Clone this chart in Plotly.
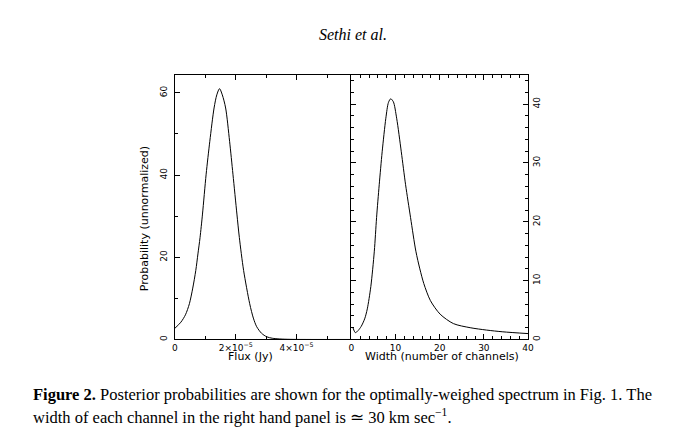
import plotly.graph_objects as go

# left panel: flux in units of 1e-5 Jy
flux_1e5 = [0, 0.2, 0.35, 0.48, 0.59, 0.69, 0.76, 0.83, 0.91, 1.03, 1.15, 1.29, 1.38,
            1.47, 1.56, 1.67, 1.80, 1.91, 2.04, 2.12, 2.26, 2.46, 2.58, 2.69, 2.85,
            3.02, 3.2, 3.45, 3.8, 4.5, 5.8]
prob_flux = [2.7, 4.2, 6.0, 8.7, 12.5, 16.8, 20.8, 24.8, 30.5, 40.2, 48.2, 56.3, 59.5,
             61.0, 59.5, 56.3, 48.2, 40.2, 30.5, 24.8, 16.8, 8.7, 5.2, 3.1, 1.5,
             0.65, 0.3, 0.12, 0.03, 0, 0]

# right panel: width in channels
width_ch = [0.3, 0.9, 1.5, 2.2, 3.0, 3.6, 4.4, 5.19, 5.7, 6.3, 6.97, 7.8, 8.4, 8.9,
            9.5, 10.25, 11.3, 12.27, 13.4, 14.6, 15.5, 16.4, 17.9, 20.1, 23.1,
            26.9, 30.6, 34.3, 40]
prob_width = [2.1, 1.15, 1.5, 2.2, 3.5, 5.2, 9.0, 15.0, 20.7, 26.3, 31.9, 37.6, 40.3, 40.9,
              40.4, 37.6, 31.9, 26.3, 20.7, 15.0, 12.0, 9.5, 6.6, 4.3, 2.7,
              2.0, 1.6, 1.3, 1.0]

# page has an 8px body margin, so the figure is a bit smaller and shifted
W, H = 675, 436
OFF = 8


def px(x):
    return (x - OFF) / W


def py(y):
    return 1 - (y - OFF) / H


ydom = [py(341), py(75)]
tickfont = dict(family="DejaVu Sans", size=9, color="black")
line = dict(color="black", width=1, shape="spline", smoothing=0.8)

fig = go.Figure()
fig.add_trace(go.Scatter(x=[f * 1e-5 for f in flux_1e5], y=prob_flux, mode="lines",
                         line=line, xaxis="x", yaxis="y"))
fig.add_trace(go.Scatter(x=width_ch, y=prob_width, mode="lines",
                         line=line, xaxis="x2", yaxis="y2"))

axis_common = dict(showgrid=False, zeroline=False, showline=True, linecolor="black",
                   linewidth=1, ticks="inside", ticklen=5, tickcolor="black",
                   tickfont=tickfont)
minor = dict(ticks="inside", ticklen=3, tickcolor="black")

fig.update_layout(
    width=W, height=H, margin=dict(l=0, r=0, t=0, b=0),
    paper_bgcolor="white", plot_bgcolor="white", showlegend=False,
    xaxis=dict(axis_common, domain=[px(174), px(353)], range=[0, 5.8e-5], anchor="y",
               tickmode="array", tickvals=[0, 2e-5, 4e-5],
               ticktext=["0", "2×10<sup>−5</sup>", "4×10<sup>−5</sup>"],
               mirror="ticks",
               minor=dict(minor, tickmode="linear", tick0=0, dtick=1e-5)),
    # shared border is drawn by the right panel's mirrored axis
    yaxis=dict(axis_common, domain=ydom, range=[0, 64.4], anchor="x", dtick=20,
               tickangle=-90, mirror=False, ticklabelstandoff=3,
               minor=dict(minor, dtick=10)),
    xaxis2=dict(axis_common, domain=[px(353), px(532)], range=[0, 40], anchor="y2",
                dtick=10, mirror="ticks", minor=dict(minor, dtick=2)),
    yaxis2=dict(axis_common, domain=ydom, range=[0, 45], anchor="x2", side="right",
                dtick=10, tickangle=-90, mirror="ticks", minor=dict(minor, dtick=2)),
)

lab = dict(family="DejaVu Sans", size=11, color="black")
serif = dict(family="Liberation Serif", size=16.5, color="black")
ann = [
    dict(text="<i>Sethi et al.</i>", x=px(355), y=py(35), font=dict(serif, size=16)),
    dict(text="Probability (unnormalized)", x=px(143), y=py(220), textangle=-90, font=lab),
    dict(text="Flux (Jy)", x=px(251), y=py(358), font=lab),
    dict(text="Width (number of channels)", x=px(445), y=py(358), font=lab),
    dict(text="<b>Figure 2.</b> Posterior probabilities are shown for the optimally-weighed "
              "spectrum in Fig. 1. The", x=px(28), y=py(396), xanchor="left", font=serif),
    dict(text="width of each channel in the right hand panel is ≃ 30 km sec<sup>−1</sup>.",
         x=px(28), y=py(418), xanchor="left", font=serif),
]
for a in ann:
    a.setdefault("xanchor", "center")
    fig.add_annotation(xref="paper", yref="paper", showarrow=False, yanchor="middle", **a)

fig.write_html("out.html")
